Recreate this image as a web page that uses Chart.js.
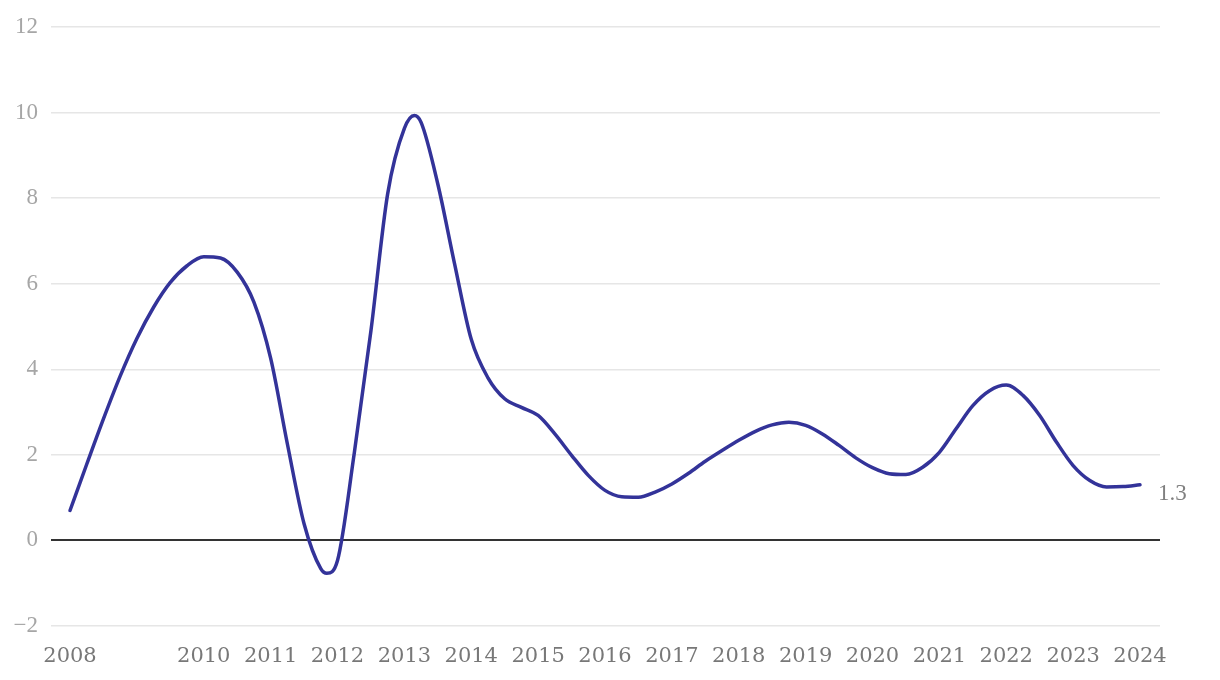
<!DOCTYPE html>
<html>
<head>
<meta charset="utf-8">
<script src="https://cdn.jsdelivr.net/npm/chart.js@4.4.1/dist/chart.umd.min.js"></script>
<style>
  html, body { margin: 0; padding: 0; background: #fff; }
  #wrap { width: 1220px; height: 680px; }
</style>
</head>
<body>
<div id="wrap"><canvas id="growthChart"></canvas></div>
<script>
// positions along the x axis (mostly quarterly, plus the two sharp turns)
var positions = [
    2008.00, 2008.25, 2008.50, 2008.75, 2009.00, 2009.25, 2009.50, 2009.75,
    2010.00, 2010.25, 2010.50, 2010.75, 2011.00, 2011.25, 2011.50, 2011.75, 2011.84,
    2012.00, 2012.25, 2012.50, 2012.75, 2013.00, 2013.15, 2013.25, 2013.50, 2013.75,
    2014.00, 2014.25, 2014.50, 2014.75, 2015.00, 2015.25, 2015.50, 2015.75,
    2016.00, 2016.25, 2016.50, 2016.75, 2017.00, 2017.25, 2017.50, 2017.75,
    2018.00, 2018.25, 2018.50, 2018.75, 2019.00, 2019.25, 2019.50, 2019.75,
    2020.00, 2020.25, 2020.50, 2020.75, 2021.00, 2021.25, 2021.50, 2021.75,
    2022.00, 2022.25, 2022.50, 2022.75, 2023.00, 2023.25, 2023.50, 2023.75,
    2024.00];
var values = [
    0.70, 1.78, 2.84, 3.84, 4.72, 5.45, 6.03, 6.42,
    6.63, 6.60, 6.27, 5.57, 4.26, 2.26, 0.39, -0.66, -0.77,
    -0.47, 2.03, 4.90, 8.10, 9.63, 9.93, 9.77, 8.33, 6.47,
    4.70, 3.80, 3.31, 3.11, 2.92, 2.49, 1.99, 1.52,
    1.17, 1.02, 1.01, 1.13, 1.32, 1.57, 1.85, 2.10,
    2.34, 2.55, 2.70, 2.76, 2.69, 2.49, 2.22, 1.93,
    1.70, 1.56, 1.54, 1.71, 2.06, 2.61, 3.15, 3.50,
    3.63, 3.39, 2.92, 2.30, 1.75, 1.40, 1.25, 1.26,
    1.30];
var yearTicks = [2008, 2010, 2011, 2012, 2013, 2014, 2015, 2016, 2017, 2018, 2019, 2020, 2021, 2022, 2023, 2024];
var valueTicks = [-2, 0, 2, 4, 6, 8, 10, 12];
var endLabel = '1.3';

var serif = "'Liberation Serif', 'DejaVu Serif', serif";
var wideSerif = "'DejaVu Serif', serif";

var endLabelPlugin = {
    id: 'endLabel',
    afterDatasetsDraw: function(chart) {
        var meta = chart.getDatasetMeta(0);
        var last = meta.data[meta.data.length - 1];
        var ctx = chart.ctx;
        ctx.save();
        ctx.font = '23px ' + serif;
        ctx.fillStyle = '#808080';
        ctx.textAlign = 'left';
        ctx.textBaseline = 'middle';
        ctx.fillText(endLabel, last.x + 18, last.y + 9);
        ctx.restore();
    }
};

var ctx = document.getElementById('growthChart').getContext('2d');
var growthChart = new Chart(ctx, {
    type: 'line',
    data: {
        datasets: [{
            data: positions.map(function(p, i) { return { x: p, y: values[i] }; }),
            borderColor: '#333399',
            borderWidth: 3.5,
            borderCapStyle: 'round',
            pointRadius: 0,
            cubicInterpolationMode: 'monotone',
            fill: false
        }]
    },
    options: {
        responsive: true,
        maintainAspectRatio: false,
        animation: false,
        layout: { padding: { top: 27, right: 60, bottom: 0, left: 0 } },
        plugins: {
            legend: { display: false },
            tooltip: { enabled: false }
        },
        scales: {
            x: {
                type: 'linear',
                min: 2008 - 19 / 66.875,
                max: 2024 + 20 / 66.875,
                afterBuildTicks: function(scale) {
                    scale.ticks = yearTicks.map(function(v) { return { value: v }; });
                },
                afterFit: function(scale) { scale.height = 54; },
                grid: { display: false, drawTicks: false },
                border: { display: false },
                ticks: {
                    autoSkip: false,
                    maxRotation: 0,
                    padding: 18,
                    color: '#787878',
                    font: { family: wideSerif, size: 21 },
                    callback: function(v) { return String(v); }
                }
            },
            y: {
                min: -2,
                max: 12,
                afterBuildTicks: function(scale) {
                    scale.ticks = valueTicks.map(function(v) { return { value: v }; });
                },
                afterFit: function(scale) { scale.width = 51; },
                grid: {
                    drawTicks: false,
                    color: function(c) { return c.tick && c.tick.value === 0 ? '#333333' : '#e6e6e6'; },
                    lineWidth: function(c) { return c.tick && c.tick.value === 0 ? 2 : 1.5; }
                },
                border: { display: false },
                ticks: {
                    padding: 13,
                    color: '#a6a6a6',
                    font: { family: serif, size: 23 },
                    callback: function(v) { return v < 0 ? '\u2212' + Math.abs(v) : String(v); }
                }
            }
        }
    },
    plugins: [endLabelPlugin]
});
</script>
</body>
</html>
